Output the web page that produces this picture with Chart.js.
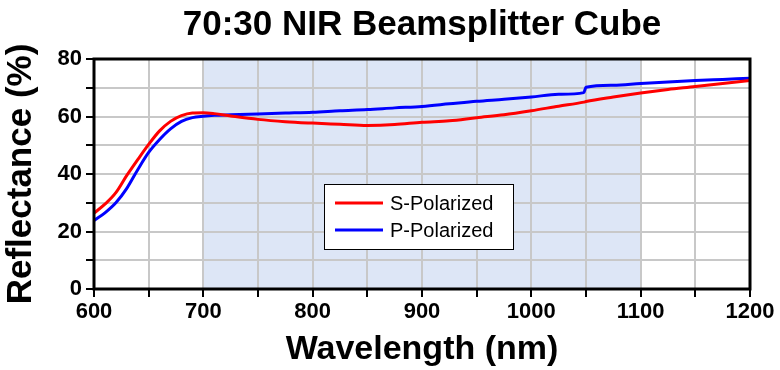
<!DOCTYPE html>
<html>
<head>
<meta charset="utf-8">
<script src="https://cdn.jsdelivr.net/npm/chart.js@4/dist/chart.umd.min.js"></script>
<style>
  html, body { margin: 0; padding: 0; background: #fff; }
  #wrap { width: 780px; height: 370px; }
</style>
</head>
<body>
<div id="wrap"><canvas id="chart" width="780" height="370"></canvas></div>
<script>
// wavelength (nm)
const wavelengths = [600, 610, 620, 630, 640, 650, 660, 670, 680, 690, 700, 710, 725, 750, 775,
    800, 825, 850, 875, 900, 925, 950, 975, 1000, 1025, 1048, 1050, 1075, 1100, 1125, 1150, 1175, 1200];

// reflectance (%)
const sPolarized = [26.4, 29.5, 33.5, 39.5, 45, 50.3, 55, 58.3, 60.3, 61.2, 61.3, 61, 60.2, 59, 58.2,
    57.7, 57.3, 56.9, 57.2, 58, 58.5, 59.6, 60.6, 62, 63.6, 65, 65.2, 66.8, 68.2, 69.4, 70.4, 71.5, 72.5];
const pPolarized = [23.8, 26.5, 30, 35, 41.5, 47.5, 52, 55.7, 58.3, 59.6, 60.1, 60.4, 60.6, 60.9, 61.2,
    61.5, 62, 62.4, 63, 63.5, 64.4, 65.3, 66, 66.8, 67.7, 68.3, 70.2, 70.9, 71.5, 72, 72.5, 72.9, 73.3];

const seriesLabels = ["S-Polarized", "P-Polarized"];
const shadedRange = [700, 1100];

const toPoints = (vals) => wavelengths.map((w, i) => ({ x: w, y: vals[i] }));

// light blue band behind the grid
const shadePlugin = {
    id: "shade",
    beforeDraw(chart) {
        const { ctx, chartArea, scales } = chart;
        const x0 = scales.x.getPixelForValue(shadedRange[0]);
        const x1 = scales.x.getPixelForValue(shadedRange[1]);
        ctx.save();
        ctx.fillStyle = "#dde6f6";
        ctx.fillRect(x0, chartArea.top, x1 - x0, chartArea.bottom - chartArea.top);
        ctx.restore();
    }
};

// black frame around the plot + boxed legend inside
const framePlugin = {
    id: "frame",
    afterDraw(chart) {
        const { ctx, chartArea } = chart;
        ctx.save();
        ctx.strokeStyle = "#000";
        ctx.lineWidth = 3;
        ctx.strokeRect(chartArea.left, chartArea.top, chartArea.right - chartArea.left, chartArea.bottom - chartArea.top);

        // legend
        const bx = chartArea.left + 230, by = chartArea.top + 125, bw = 189, bh = 65;
        ctx.fillStyle = "#fff";
        ctx.fillRect(bx, by, bw, bh);
        ctx.lineWidth = 1;
        ctx.strokeRect(bx + 0.5, by + 0.5, bw, bh);
        ctx.font = "20px 'Liberation Sans', Arial, sans-serif";
        ctx.textBaseline = "middle";
        chart.data.datasets.forEach((ds, i) => {
            const y = by + 19 + i * 27;
            ctx.strokeStyle = ds.borderColor;
            ctx.lineWidth = 3;
            ctx.beginPath();
            ctx.moveTo(bx + 11, y);
            ctx.lineTo(bx + 59, y);
            ctx.stroke();
            ctx.fillStyle = "#000";
            ctx.fillText(ds.label, bx + 66, y + 1);
        });
        ctx.restore();
    }
};

const bold = (size) => ({ family: "'Liberation Sans', Arial, sans-serif", size: size, weight: "bold" });

new Chart(document.getElementById("chart"), {
    type: "line",
    data: {
        datasets: [
            { label: seriesLabels[0], data: toPoints(sPolarized), borderColor: "#ff0000", borderWidth: 3, pointRadius: 0, cubicInterpolationMode: "monotone", fill: false },
            { label: seriesLabels[1], data: toPoints(pPolarized), borderColor: "#0000ff", borderWidth: 3, pointRadius: 0, cubicInterpolationMode: "monotone", fill: false }
        ]
    },
    options: {
        responsive: false,
        animation: false,
        events: [],
        layout: { padding: { left: 0, right: 30, top: 0, bottom: 0 } },
        plugins: {
            legend: { display: false },
            tooltip: { enabled: false },
            title: {
                display: true,
                text: "70:30 NIR Beamsplitter Cube",
                color: "#000",
                font: bold(35),
                fullSize: false,
                padding: { top: 4, bottom: 13 }
            }
        },
        scales: {
            x: {
                type: "linear",
                min: 600,
                max: 1200,
                afterFit: (s) => { s.height = 81; },
                border: { display: false },
                grid: { color: "#c8c8c8", lineWidth: 2, tickColor: "#000", tickLength: 8, tickWidth: 2 },
                ticks: {
                    stepSize: 50,
                    autoSkip: false,
                    maxRotation: 0,
                    color: "#000",
                    font: bold(22),
                    padding: 2,
                    callback: (v) => (v % 100 === 0 ? v : "")
                },
                title: { display: true, text: "Wavelength (nm)", color: "#000", font: bold(34), padding: 0 }
            },
            y: {
                min: 0,
                max: 80,
                afterFit: (s) => { s.width = 94; },
                border: { display: false },
                grid: { color: "#c8c8c8", lineWidth: 2, tickColor: "#000", tickLength: 8, tickWidth: 2 },
                ticks: {
                    stepSize: 10,
                    autoSkip: false,
                    color: "#000",
                    font: bold(22),
                    padding: 4,
                    callback: (v) => (v % 20 === 0 ? v : "")
                },
                title: { display: true, text: "Reflectance (%)", color: "#000", font: bold(35), padding: { top: 0, bottom: 0 } }
            }
        }
    },
    plugins: [shadePlugin, framePlugin]
});
</script>
</body>
</html>
